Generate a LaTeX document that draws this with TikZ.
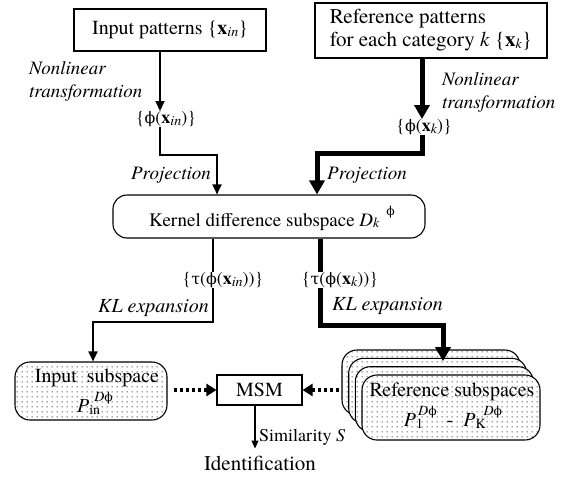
\documentclass[tikz,border=0pt]{standalone}
\usepackage{fontspec}
\setmainfont{texgyretermes}[Extension=.otf, UprightFont=*-regular, ItalicFont=*-italic, BoldFont=*-bold, BoldItalicFont=*-bolditalic]
\newfontfamily\grk{DejaVu Serif}[Scale=0.88]
\usetikzlibrary{arrows.meta,patterns.meta}
\newcommand\fsz[2]{\fontsize{#1}{#2}\selectfont}
\newcommand\ph{{\grk ϕ}}
\newcommand\ta{{\grk τ}}
\newcommand\bx{\textbf{x}}
\newcommand\lo[1]{\raisebox{-0.2ex}{\fsz{14}{14}\itshape #1}}
\newcommand\Pt[2]{\textit{P}\makebox[0pt][l]{\raisebox{-0.15ex}{\fsz{14}{14}#1}}\hspace{#2}\raisebox{1.3ex}{\fsz{14}{14}\textit{D}\ph}}
\tikzdeclarepattern{
  name=sdots,
  type=uncolored,
  bounding box={(0pt,0pt) and (5pt,5pt)},
  tile size={(5pt,5pt)},
  code={\fill (2.5pt,2.5pt) circle (0.65pt);}
}
\tikzset{
  box/.style={draw, line width=1.1pt, inner sep=0pt},
  rbox/.style={draw, line width=1.1pt, rounded corners=14pt, inner sep=0pt},
  sbox/.style={draw, line width=1.1pt, rounded corners=15pt, inner sep=0pt, preaction={fill=white}, pattern=sdots},
  thinarrow/.style={line width=1.8pt, -{Triangle[length=10pt,width=9pt]}},
  thickarrow/.style={line width=5pt, -{Triangle[length=14pt,width=15pt]}},
  dotarrow/.style={line width=3.5pt, dash pattern=on 3.5pt off 2.5pt, -{Triangle[length=10pt,width=12pt]}},
  lbl/.style={font=\fsz{19}{23}\itshape, inner sep=0pt},
  txt/.style={inner sep=0pt}
}
\begin{document}
\begin{tikzpicture}[x=1pt,y=-1pt]
\useasboundingbox (0,0) rectangle (581,479);
% coordinates for connector columns
\coordinate (xl) at (160,0);
\coordinate (xr) at (217,0);
\coordinate (xk) at (422,0);
\coordinate (xp) at (317,0);
\coordinate (xa) at (213,0);
\coordinate (xb) at (320,0);
\coordinate (xc) at (443,0);
\coordinate (xm) at (255,0);
\coordinate (xi) at (93,0);
\coordinate (c1) at (160,155);
\coordinate (c3) at (422,153);
\coordinate (c4) at (213,322);
\coordinate (c5) at (320,325);

% top boxes
\node[box, minimum width=192pt, minimum height=42pt, font=\fsz{20}{24}] (inp) at (170,30) {Input patterns \{\bx\lo{in}\}};
\node[box, minimum width=232pt, minimum height=55pt, align=left, font=\fsz{21}{23}] (ref) at (431,30.5) {Reference patterns\\for each category \textit{k} \{\bx\lo{k}\}};

% phi nodes
\node[txt, font=\fsz{18}{20}] (phin) at (166,119) {\{\ph(\bx\lo{in})\}};
\node[txt, font=\fsz{18}{20}] (phik) at (424,127) {\{\ph(\bx\lo{k})\}};

% kernel box
\node[rbox, minimum width=312pt, minimum height=43pt] (kern) at (269,216.5) {};
\node[txt, font=\fsz{19}{22}] (kernt) at (272,218) {Kernel difference subspace \textit{D}\lo{k}\hspace{7pt}\raisebox{1.3ex}{\fsz{14}{14}\ph}};

% tau nodes
\node[txt, font=\fsz{18}{20}] (tauin) at (223,280) {\{\ta(\ph(\bx\lo{in}))\}};
\node[txt, font=\fsz{18}{20}] (tauk) at (340,280) {\{\ta(\ph(\bx\lo{k}))\}};

% labels
\node[lbl, align=left, anchor=west] (nl1) at (29,81) {Nonlinear\\transformation};
\node[lbl, align=left, anchor=west] (nl2) at (442,92) {Nonlinear\\transformation};
\node[lbl, anchor=east] (pr1) at (211,175) {Projection};
\node[lbl, anchor=west] (pr2) at (327,175) {Projection};
\node[lbl, font=\fsz{20}{23}\itshape, anchor=east] (kl1) at (209,308) {KL expansion};
\node[lbl, font=\fsz{20}{23}\itshape, anchor=west] (kl2) at (332,306) {KL expansion};

% bottom: input subspace
\node[sbox, minimum width=152pt, minimum height=58pt] (insub) at (91,391) {};
\node[txt, font=\fsz{20}{20}] (insubt) at (97,378) {Input\ \ subspace};
\node[txt, font=\fsz{20}{20}] (pin) at (95,403) {\Pt{in}{5pt}};

% reference subspaces stack
\node[sbox, minimum width=178pt, minimum height=65pt] (rs3) at (431,382.5) {};
\node[sbox, minimum width=178pt, minimum height=65pt] (rs2) at (437.7,390.8) {};
\node[sbox, minimum width=178pt, minimum height=65pt] (rs1) at (444.3,399.2) {};
\node[sbox, minimum width=178pt, minimum height=65pt] (rs0) at (451,407.5) {};
\node[txt, font=\fsz{20}{20}] (rst) at (452,392) {Reference subspaces};
\node[txt, font=\fsz{20}{20}] (pk) at (453,417) {\Pt{1}{2pt}\ \ -\ \ \Pt{K}{8pt}};

% MSM
\node[box, minimum width=85pt, minimum height=30pt, font=\fsz{20}{20}] (msm) at (259.5,390) {MSM};
\node[txt, font=\fsz{21}{22}] (ident) at (260,463) {Identification};
\node[txt, font=\fsz{18}{20}, anchor=west] (sim) at (259,437) {Similarity \textit{S}};

% connectors left
\draw[thinarrow] (inp.south -| xl) -- (phin.north -| xl);
\draw[thinarrow, line join=miter] (phin.south -| xl) -- (c1) -| (kern.north -| xr);
\draw[line width=1.8pt] (kern.south -| xa) -- (tauin.north -| xa);
\draw[thinarrow, line join=miter] (tauin.south -| xa) -- (c4) -| (insub.north -| xi);

% connectors right
\draw[thickarrow] (ref.south -| xk) -- (phik.north -| xk);
\draw[thickarrow, line join=miter] (phik.south -| xk) -- (c3) -| (kern.north -| xp);
\draw[line width=5pt] (kern.south -| xb) -- (tauk.north -| xb);
\draw[thickarrow, line join=miter, shorten >=5pt] (tauk.south -| xb) -- (c5) -| (rs1.north -| xc);

% bottom connectors
\draw[dotarrow, shorten <=6pt] (insub.east |- msm.west) -- (msm.west);
\draw[dotarrow, shorten <=2pt] (rs3.west |- msm.east) -- (msm.east);
\draw[line width=1.1pt, -{Triangle[length=8pt,width=7pt]}, shorten >=7pt] (msm.south -| xm) -- (ident.north -| xm);
\end{tikzpicture}
\end{document}
